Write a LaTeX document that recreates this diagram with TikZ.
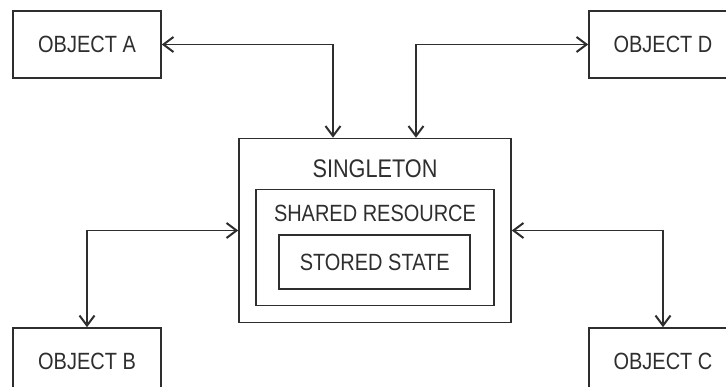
\documentclass[tikz,border=0pt]{standalone}
\usepackage{fontspec}
\setmainfont{Liberation Sans}[FakeStretch=0.85]
\usetikzlibrary{arrows.meta}
\definecolor{ink}{HTML}{2E2E2E}
\begin{document}
\begin{tikzpicture}[x=1pt,y=-1pt,
  objbox/.style={draw=ink, line width=1.6pt, rectangle, minimum width=148pt,
    minimum height=67pt, text=ink, font=\fontsize{23.5}{26}\selectfont, inner sep=0pt},
  frame/.style={draw=ink, line width=1.6pt, rectangle, inner sep=0pt},
  lbl/.style={text=ink, inner sep=0pt},
  link/.style={draw=ink, line width=1.6pt,
    {Straight Barb[length=10pt,width=15pt,line width=2pt]}-{Straight Barb[length=10pt,width=15pt,line width=2pt]}}
]
\useasboundingbox (0,0) rectangle (726,387);

% client objects
\node[objbox] (A) at (87,44.5) {OBJECT A};
\node[objbox] (D) at (663,44.5) {OBJECT D};
\node[objbox] (B) at (87,361.5) {OBJECT B};
\node[objbox] (C) at (663,361.5) {OBJECT C};

% the singleton and its nested contents
\node[frame, minimum width=272pt, minimum height=184pt] (single) at (375,230.5) {};
\node[frame, minimum width=238pt, minimum height=116pt] (shared) at (375,247.5) {};
\node[frame, minimum width=191pt, minimum height=54pt, text=ink,
  font=\fontsize{23.5}{26}\selectfont] (stored) at (374.7,262.3) {STORED STATE};
\node[lbl, font=\fontsize{25.5}{28}\selectfont] (singlelbl) at (375,168.5) {SINGLETON};
\node[lbl, font=\fontsize{23.5}{26}\selectfont] (sharedlbl) at (375,213.5) {SHARED RESOURCE};

% two-way links
\draw[link] (A.east) -| ([xshift=-42pt]single.north);
\draw[link] (D.west) -| ([xshift=41pt]single.north);
\draw[link] (B.north) |- (single.west);
\draw[link] (C.north) |- (single.east);
\end{tikzpicture}
\end{document}
